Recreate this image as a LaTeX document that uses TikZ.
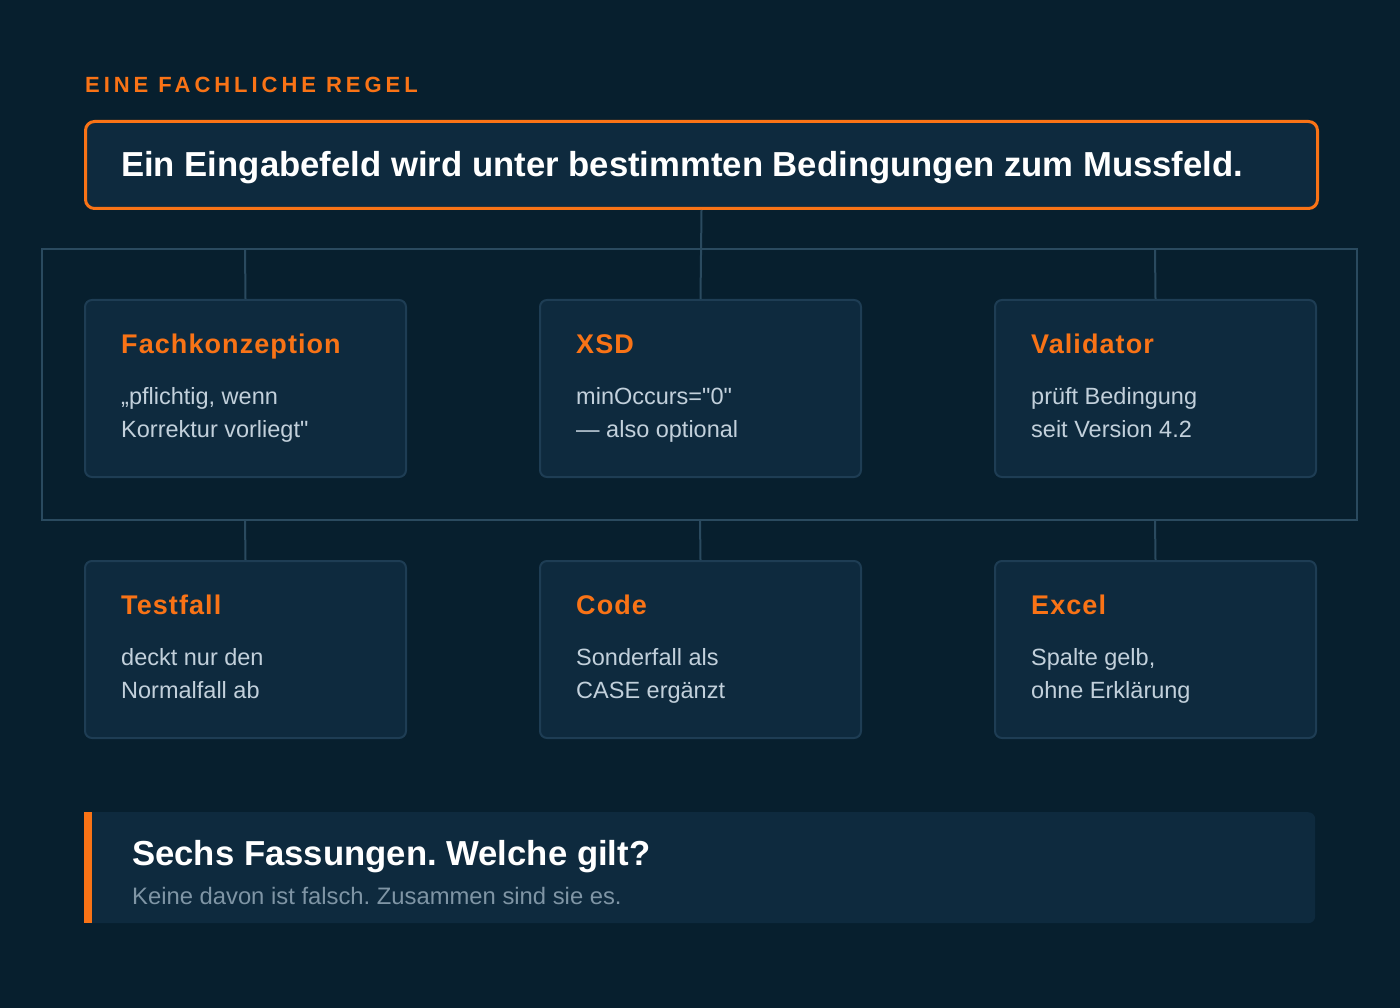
\documentclass[tikz,border=0pt]{standalone}
\usepackage{fontspec}
\setmainfont{Liberation Sans}[Ligatures=TeXOff]
\definecolor{bg}{HTML}{071F2E}
\definecolor{boxfill}{HTML}{0E2A3E}
\definecolor{boxline}{HTML}{1E3D54}
\definecolor{frameline}{HTML}{2A4A5F}
\definecolor{orange}{HTML}{F97316}
\definecolor{bodytxt}{HTML}{C2D0DB}
\definecolor{subtxt}{HTML}{7F95A5}
\tikzset{
  card/.style={draw=boxline, line width=2pt, fill=boxfill, rounded corners=7pt,
    minimum width=321pt, minimum height=177pt, inner sep=0pt, anchor=north west},
  cardtitle/.style={anchor=base west, inner sep=0pt, text=orange,
    font=\fontsize{27}{32}\selectfont\bfseries\addfontfeatures{LetterSpace=4}},
  cardbody/.style={anchor=base west, inner sep=0pt, text=bodytxt, align=left,
    font=\fontsize{23.5}{33}\selectfont},
  conn/.style={draw=frameline, line width=2pt},
}
\begin{document}
\frenchspacing
\begin{tikzpicture}[x=1pt,y=-1pt]
\fill[bg] (0,0) rectangle (1400,1008);
\useasboundingbox (0,0) rectangle (1400,1008);

% header
\node[anchor=base west, inner sep=0pt, text=orange,
  font=\fontsize{22}{26}\selectfont\bfseries\addfontfeatures{LetterSpace=18}]
  (hdr) at (85,93) {EINE FACHLICHE REGEL};

% main rule box
\node[draw=orange, line width=3pt, fill=boxfill, rounded corners=9pt,
  minimum width=1232pt, minimum height=87pt, inner sep=0pt, anchor=north west]
  (rule) at (84,120) {};
\node[anchor=base west, inner sep=0pt, text=white,
  font=\fontsize{34.7}{40}\selectfont\bfseries]
  (ruletxt) at (121,176.5) {Ein Eingabefeld wird unter bestimmten Bedingungen zum Mussfeld.};

% frame
\draw[conn] (42,249) rectangle (1357,520);
\coordinate (ft1) at (245,249);
\coordinate (ft3) at (1155,249);
\coordinate (fb1) at (245,520);
\coordinate (fb2) at (700,520);
\coordinate (fb3) at (1155,520);

% cards row 1
\node[card] (c1) at (84,299) {};
\node[card] (c2) at (539,299) {};
\node[card] (c3) at (994,299) {};
% cards row 2
\node[card] (c4) at (84,560) {};
\node[card] (c5) at (539,560) {};
\node[card] (c6) at (994,560) {};

% connectors
\draw[conn] (rule.south) -- (c2.north);
\draw[conn] (ft1) -- (c1.north);
\draw[conn] (ft3) -- (c3.north);
\draw[conn] (fb1) -- (c4.north);
\draw[conn] (fb2) -- (c5.north);
\draw[conn] (fb3) -- (c6.north);

% card texts row 1 (anchor = baseline of last line)
\node[cardtitle] (t1) at (121,353) {Fachkonzeption};
\node[cardbody] (b1) at (121,437) {„pflichtig, wenn\\Korrektur vorliegt"};
\node[cardtitle] (t2) at (576,353) {XSD};
\node[cardbody] (b2) at (576,437) {minOccurs="0"\\— also optional};
\node[cardtitle] (t3) at (1031,353) {Validator};
\node[cardbody] (b3) at (1031,437) {prüft Bedingung\\seit Version 4.2};
% card texts row 2
\node[cardtitle] (t4) at (121,614) {Testfall};
\node[cardbody] (b4) at (121,698) {deckt nur den\\Normalfall ab};
\node[cardtitle] (t5) at (576,614) {Code};
\node[cardbody] (b5) at (576,698) {Sonderfall als\\CASE ergänzt};
\node[cardtitle] (t6) at (1031,614) {Excel};
\node[cardbody] (b6) at (1031,698) {Spalte gelb,\\ohne Erklärung};

% bottom callout
\node[fill=boxfill, rounded corners=7pt, minimum width=1231pt, minimum height=111pt,
  inner sep=0pt, anchor=north west] (call) at (84,812) {};
\fill[orange] (84,812) rectangle (92,923);
\node[anchor=base west, inner sep=0pt, text=white,
  font=\fontsize{34.7}{40}\selectfont\bfseries] (calltitle) at (132,865) {Sechs Fassungen. Welche gilt?};
\node[anchor=base west, inner sep=0pt, text=subtxt,
  font=\fontsize{23.8}{28}\selectfont] (callsub) at (132,904) {Keine davon ist falsch. Zusammen sind sie es.};
\end{tikzpicture}
\end{document}
